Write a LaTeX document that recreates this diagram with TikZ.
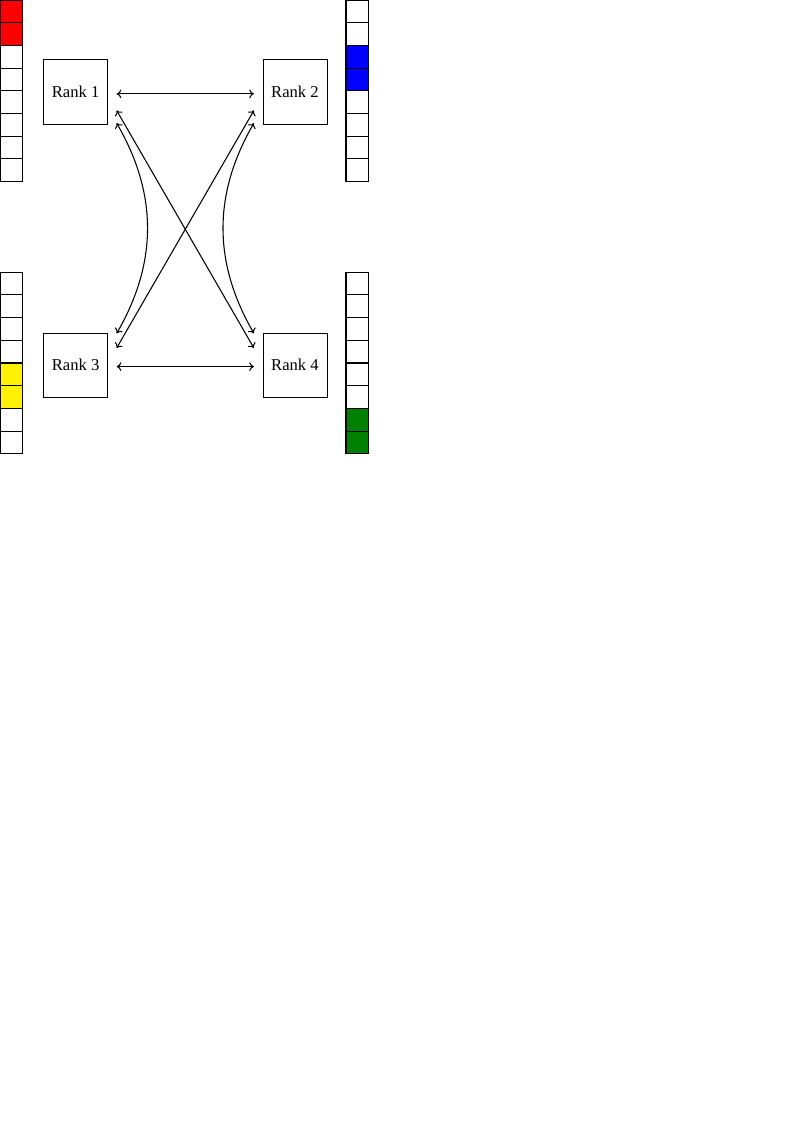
\documentclass[tikz,border=0pt]{standalone}
\usepackage{fontspec}
\setmainfont{Liberation Serif}
\usetikzlibrary{arrows.meta}

\begin{document}
\begin{tikzpicture}
            \tikzset{rank/.style = {shape=rectangle, draw, minimum size=1.7cm, inner sep=0pt, font=\fontsize{12.5}{15}\selectfont}}
            \tikzset{cell/.style = {shape=rectangle, draw, line width=0.8pt, minimum size=0.6cm, inner sep=0pt, outer sep=0pt, anchor=north west}}
            \tikzset{link/.style = {draw=black, line width=0.8pt, {To[length=3.5pt,width=6.5pt]}-{To[length=3.5pt,width=6.5pt]}}}
            \useasboundingbox (0,0) rectangle (21,-29.7);
            % memory
            \foreach \m/\x/\y in {a/0/0, b/9.15/0, c/0/-7.2, d/9.15/-7.2}
                \foreach \i in {0,...,7}
                    \node[cell] (\m\i) at (\x,\y-0.6*\i) {};
            \foreach \m/\i/\c in {a/0/red, a/1/red, b/2/blue, b/3/blue, c/4/yellow, c/5/yellow, d/6/green!50!black, d/7/green!50!black}
                \node[cell,fill=\c] at (\m\i.north west) {};
            % ranks
            \node[rank] (r1) at (2.0,-2.43) {Rank 1};
            \node[rank] (r2) at (7.8,-2.43) {Rank 2};
            \node[rank] (r3) at (2.0,-9.66) {Rank 3};
            \node[rank] (r4) at (7.8,-9.66) {Rank 4};
            % edges
            \draw[link] ([shift={(6.5pt,-1.5pt)}]r1.east) to ([shift={(-6.5pt,-1.5pt)}]r2.west);
            \draw[link] ([shift={(6.5pt,-1pt)}]r3.east) to ([shift={(-6.5pt,-1pt)}]r4.west);
            \draw[link] ([shift={(6.5pt,-14pt)}]r1.east) to ([shift={(-6.5pt,13pt)}]r4.west);
            \draw[link] ([shift={(6.5pt,13pt)}]r3.east) to ([shift={(-6.5pt,-14pt)}]r2.west);
            \draw[link] ([shift={(6.5pt,-23.5pt)}]r1.east) to[bend left=30] ([shift={(6.5pt,24pt)}]r3.east);
            \draw[link] ([shift={(-6.5pt,-23.5pt)}]r2.west) to[bend right=30] ([shift={(-6.5pt,24pt)}]r4.west);
        \end{tikzpicture}
\end{document}
